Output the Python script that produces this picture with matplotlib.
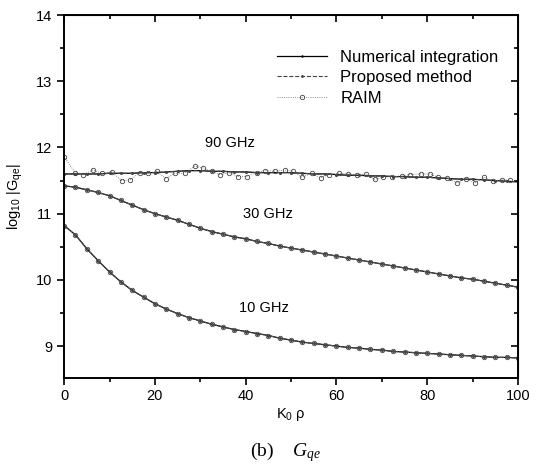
import numpy as np
import matplotlib
matplotlib.use("Agg")
import matplotlib.pyplot as plt
from matplotlib.ticker import MultipleLocator

plt.rcParams['font.family'] = ['Liberation Sans', 'DejaVu Sans']
plt.rcParams['mathtext.fontset'] = 'custom'
plt.rcParams['mathtext.rm'] = 'Liberation Sans'
plt.rcParams['mathtext.it'] = 'Liberation Serif:italic'

# K0*rho sample points of the curves
k_rho = np.arange(0, 100.1, 2.5)

# log10 |Gqe|
g_10ghz = [10.82, 10.68, 10.47, 10.29, 10.12, 9.97, 9.84, 9.74, 9.64, 9.56, 9.49,
           9.43, 9.38, 9.33, 9.29, 9.25, 9.22, 9.19, 9.16, 9.12, 9.09,
           9.06, 9.04, 9.02, 9.00, 8.98, 8.97, 8.95, 8.94, 8.92, 8.91,
           8.90, 8.89, 8.88, 8.87, 8.86, 8.85, 8.84, 8.83, 8.83, 8.82]
g_30ghz = [11.42, 11.40, 11.36, 11.32, 11.27, 11.20, 11.13, 11.06, 11.00, 10.95, 10.90,
           10.84, 10.78, 10.73, 10.69, 10.65, 10.62, 10.58, 10.55, 10.51, 10.48,
           10.45, 10.42, 10.39, 10.36, 10.33, 10.30, 10.27, 10.24, 10.21, 10.18,
           10.15, 10.12, 10.09, 10.06, 10.03, 10.01, 9.98, 9.95, 9.92, 9.89]
g_90ghz = [11.60, 11.60, 11.60, 11.60, 11.61, 11.61, 11.61, 11.62, 11.62, 11.63, 11.64,
           11.65, 11.65, 11.64, 11.64, 11.63, 11.63, 11.62, 11.62, 11.62, 11.62,
           11.61, 11.60, 11.60, 11.59, 11.58, 11.58, 11.57, 11.57, 11.56, 11.56,
           11.55, 11.55, 11.54, 11.53, 11.52, 11.52, 11.51, 11.50, 11.49, 11.48]

# RAIM points at 90 GHz (scattered)
raim90_x = [0.0, 2.4, 4.2, 6.3, 8.3, 10.5, 12.7, 14.5, 16.7, 18.4, 20.4, 22.4, 24.4,
            26.6, 28.8, 30.6, 32.5, 34.3, 36.3, 38.3, 40.2, 42.4, 44.2, 46.4, 48.6,
            50.4, 52.4, 54.6, 56.5, 58.3, 60.5, 62.5, 64.5, 66.5, 68.4, 70.2, 72.2,
            74.4, 76.2, 78.6, 80.6, 82.4, 84.4, 86.6, 88.5, 90.5, 92.5, 94.4, 96.4, 98.2]
raim90_y = [11.86, 11.62, 11.59, 11.66, 11.61, 11.63, 11.50, 11.51, 11.62, 11.61, 11.64,
            11.53, 11.61, 11.61, 11.72, 11.69, 11.64, 11.59, 11.62, 11.56, 11.56, 11.62,
            11.65, 11.64, 11.66, 11.64, 11.55, 11.61, 11.54, 11.59, 11.61, 11.60, 11.59,
            11.60, 11.52, 11.55, 11.56, 11.57, 11.59, 11.60, 11.60, 11.55, 11.54, 11.46,
            11.53, 11.46, 11.55, 11.49, 11.51, 11.51]

fig = plt.figure(figsize=(5.39, 4.70), dpi=100)
ax = fig.add_axes([0.119, 0.196, 0.842, 0.772])

num_style = dict(color='black', lw=0.9, marker='.', ms=1.5)
prop_style = dict(color='#444444', lw=0.8, ls='--', marker='.', ms=2)
raim_style = dict(color='#666666', lw=0.6, ls=':', marker='o', ms=3.2,
                  mfc='none', mec='#444444', mew=0.6)

for g in [g_10ghz, g_30ghz, g_90ghz]:
    ax.plot(k_rho, g, **num_style)
    ax.plot(k_rho, g, **prop_style)
for g in [g_10ghz, g_30ghz]:
    ax.plot(k_rho, g, **raim_style)
ax.plot(raim90_x, raim90_y, **raim_style)

# legend handles
h1, = ax.plot([], [], **num_style)
h2, = ax.plot([], [], **prop_style)
h3, = ax.plot([], [], **raim_style)
ax.legend([h1, h2, h3], ['Numerical integration', 'Proposed method', 'RAIM'],
          loc='upper right', bbox_to_anchor=(0.99, 0.945), frameon=False,
          fontsize=12, handlelength=3.0, handletextpad=0.8, labelspacing=0.32,
          numpoints=1)

ax.text(36.5, 12.07, '90 GHz', fontsize=10.5, ha='center', va='center')
ax.text(45, 11.0, '30 GHz', fontsize=10.5, ha='center', va='center')
ax.text(44, 9.58, '10 GHz', fontsize=10.5, ha='center', va='center')

ax.set_xlim(0, 100)
ax.set_ylim(8.52, 14)
ax.xaxis.set_major_locator(MultipleLocator(20))
ax.xaxis.set_minor_locator(MultipleLocator(10))
ax.yaxis.set_major_locator(MultipleLocator(1))
ax.yaxis.set_minor_locator(MultipleLocator(0.5))
ax.tick_params(which='both', direction='out', labelsize=10.5, width=1.2)
ax.tick_params(which='major', length=5)
ax.tick_params(which='minor', length=3)
ax.tick_params(axis='x', pad=3)

# mirrored inward ticks on top and right
for side in ['top', 'right']:
    sec = ax.secondary_xaxis('top') if side == 'top' else ax.secondary_yaxis('right')
    axis = sec.xaxis if side == 'top' else sec.yaxis
    axis.set_major_locator(MultipleLocator(20 if side == 'top' else 1))
    axis.set_minor_locator(MultipleLocator(10 if side == 'top' else 0.5))
    sec.tick_params(which='both', direction='in', labelsize=0, width=1.2,
                    labeltop=False, labelright=False)
    sec.tick_params(which='major', length=5)
    sec.tick_params(which='minor', length=3)

for s in ax.spines.values():
    s.set_linewidth(1.4)

ax.set_xlabel(r'K$_\mathrm{0}$ ρ', fontsize=10.5, labelpad=2)
ax.set_ylabel(r'log$_{\mathrm{10}}$ |G$_{\mathrm{qe}}$|', fontsize=10.5, labelpad=8)

fig.text(0.53, 0.038, r'(b)    $G_{qe}$', fontsize=14, ha='center', va='center',
         family='Liberation Serif')

fig.savefig('out.png', dpi=100)
